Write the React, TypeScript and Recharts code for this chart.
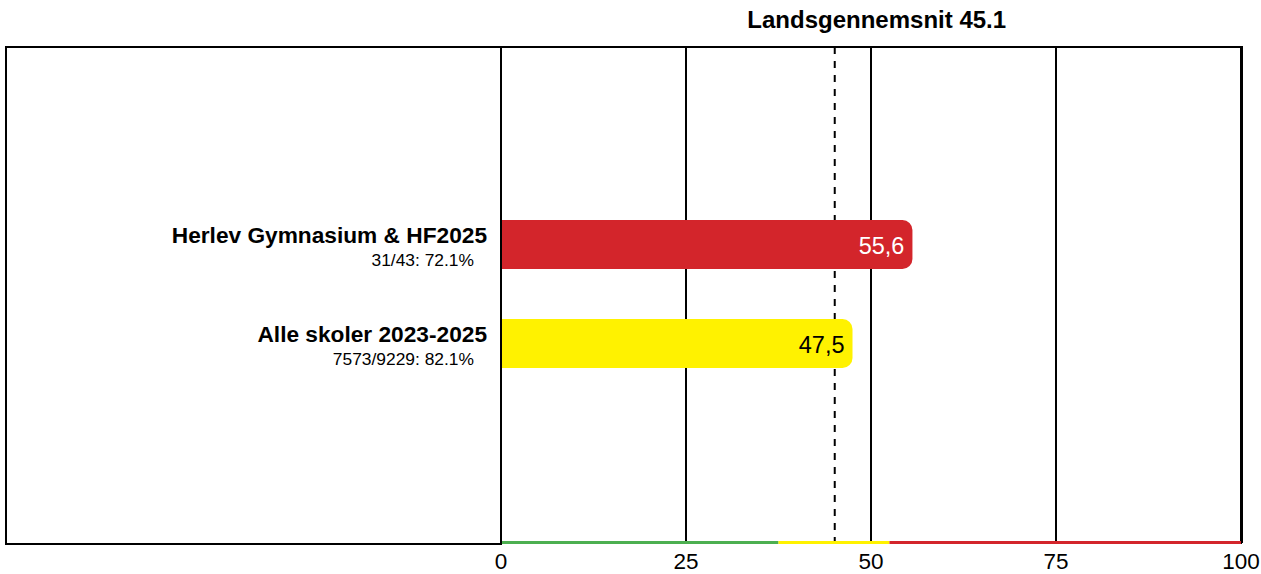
import { Bar, BarChart, CartesianGrid, Cell, LabelList, ReferenceArea, ReferenceLine, XAxis, YAxis } from 'recharts';

const FONT = '"Liberation Sans", Arial, sans-serif';

const categories = ['Herlev Gymnasium & HF2025', 'Alle skoler 2023-2025'];
const subLabels = ['31/43: 72.1%', '7573/9229: 82.1%'];
const values = [55.6, 47.5];
const barColors = ['#d3252b', '#fff200'];
const valueColors = ['#ffffff', '#000000'];
const valueLabels = ['55,6', '47,5'];

const nationalAverage = 45.1;
const xTicks = [0, 25, 50, 75, 100];

// scale bands drawn along the bottom edge
const bandFrom = [0, 37.5, 52.5];
const bandTo = [37.5, 52.5, 100];
const bandColors = ['#4caf50', '#fff200', '#d3252b'];

const data = categories.map((name, i) => ({ name, value: values[i], idx: i }));

function CategoryTick(props: any) {
  const { x, y, payload, index } = props;
  return (
    <g>
      <text x={x} y={y - 2} textAnchor="end" fontFamily={FONT} fontWeight="bold" fontSize={22.7} fill="#000">
        {payload.value}
      </text>
      <text x={x - 13} y={y + 21} textAnchor="end" fontFamily={FONT} fontSize={17.4} fill="#000">
        {subLabels[index]}
      </text>
    </g>
  );
}

function ValueTick(props: any) {
  const { x, y, payload } = props;
  return (
    <text x={x} y={y + 17} textAnchor="middle" fontFamily={FONT} fontSize={22.5} fill="#000">
      {payload.value}
    </text>
  );
}

function ValueLabel(props: any) {
  const { x, y, width, height, index } = props;
  return (
    <text
      x={x + width - 8}
      y={y + height / 2 + 1}
      textAnchor="end"
      dominantBaseline="central"
      fontFamily={FONT}
      fontSize={23.5}
      fill={valueColors[index]}
    >
      {valueLabels[index]}
    </text>
  );
}

function AverageLabel(props: any) {
  const { viewBox } = props;
  return (
    <text x={viewBox.x + 42} y={28} textAnchor="middle" fontFamily={FONT} fontWeight="bold" fontSize={24} fill="#000">
      {`Landsgennemsnit ${nationalAverage}`}
    </text>
  );
}

const bandShape = (color: string) => (props: any) =>
  <rect x={props.x} y={props.y + props.height - 3} width={props.width} height={3} fill={color} />;

export default function App() {
  return (
    <div style={{ position: 'absolute', left: 0, top: 0, width: 1261, height: 574, background: '#fff', fontFamily: FONT }}>
      {/* outer frame around labels + plot */}
      <div style={{ position: 'absolute', left: 5, top: 46, width: 1238, height: 497, borderTop: '2px solid #000', borderLeft: '2px solid #000', borderRight: '2px solid #000', boxSizing: 'border-box' }} />
      <div style={{ position: 'absolute', left: 5, top: 543, width: 497, height: 2, background: '#000' }} />
      <div style={{ position: 'absolute', left: 0, top: 0 }}>
        <BarChart
          width={1261}
          height={574}
          data={data}
          layout="vertical"
          margin={{ top: 47, right: 20, left: 6, bottom: 0 }}
        >
          <CartesianGrid horizontal={false} stroke="#000" strokeWidth={2} strokeOpacity={1} />
          <XAxis
            type="number"
            domain={[0, 100]}
            ticks={xTicks}
            axisLine={false}
            tickLine={false}
            height={30}
            tick={<ValueTick />}
            interval={0}
          />
          <YAxis
            type="category"
            dataKey="name"
            width={495}
            axisLine={{ stroke: '#000', strokeWidth: 2 }}
            tickLine={false}
            tickSize={0}
            tickMargin={14}
            padding={{ top: 148, bottom: 151 }}
            tick={<CategoryTick />}
            interval={0}
          />
          <YAxis yAxisId="band" type="number" domain={[0, 1]} hide />
          {bandColors.map((c, i) => (
            <ReferenceArea
              key={c}
              yAxisId="band"
              x1={bandFrom[i]}
              x2={bandTo[i]}
              y1={0}
              y2={1}
              shape={bandShape(c)}
              ifOverflow="visible"
            />
          ))}
          <ReferenceLine
            x={nationalAverage}
            stroke="#000"
            strokeWidth={2}
            strokeDasharray="7 7"
            label={<AverageLabel />}
            zIndex={50}
          />
          <Bar dataKey="value" barSize={49} radius={[0, 10, 10, 0]} isAnimationActive={false} zIndex={300}>
            {data.map((d) => (
              <Cell key={d.idx} fill={barColors[d.idx]} />
            ))}
            <LabelList dataKey="value" content={<ValueLabel />} zIndex={400} />
          </Bar>
        </BarChart>
      </div>
    </div>
  );
}
